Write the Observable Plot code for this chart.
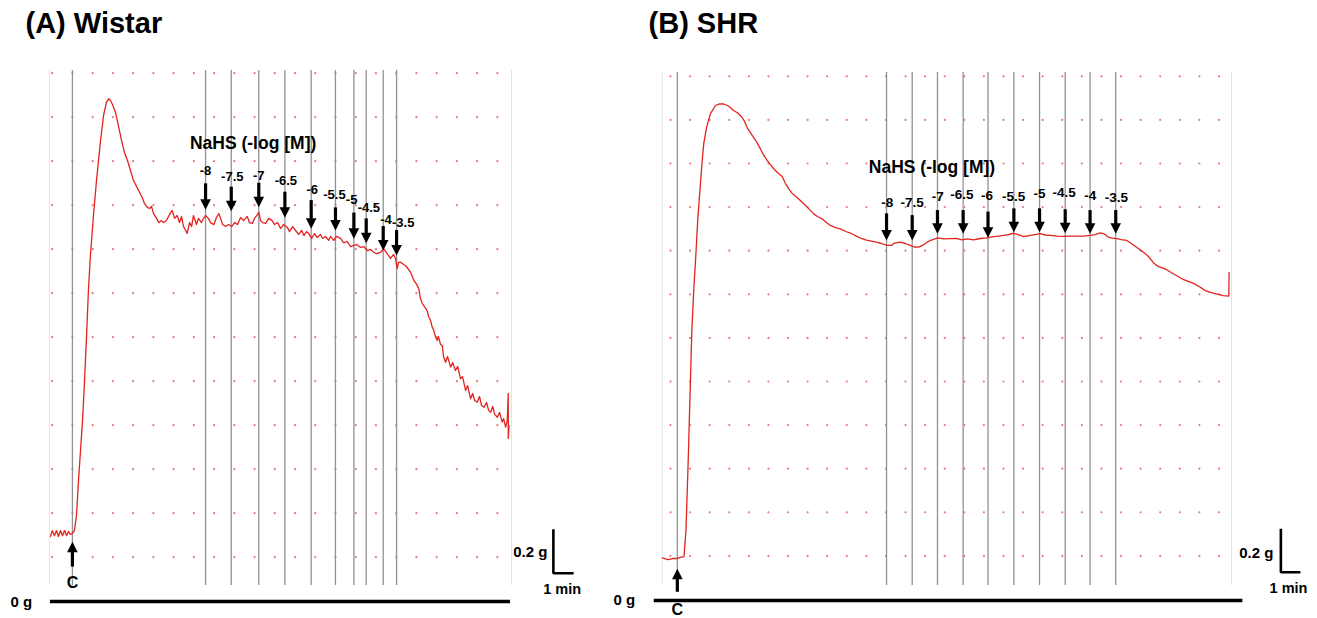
<!DOCTYPE html>
<html><head><meta charset="utf-8">
<script src="https://cdn.jsdelivr.net/npm/d3@7"></script>
<script src="https://cdn.jsdelivr.net/npm/@observablehq/plot@0.6"></script>
<style>
html,body{margin:0;padding:0;background:#fff;}
#wrap{position:relative;width:1317px;height:618px;overflow:hidden;background:#fff;}
#wrap svg{position:absolute;top:0;}
</style></head><body><div id="wrap"></div>
<script>
// ---------- data (time in min, force in g) ----------
const doseLabels = ["-8","-7.5","-7","-6.5","-6","-5.5","-5","-4.5","-4","-3.5"];
const gridGrams = [0.2,0.4,0.6,0.8,1.0,1.2,1.4,1.6,1.8,2.0,2.2,2.4];
const wistarGridMinutes = d3.range(0, 23);
const shrGridMinutes = d3.range(0, 29);

// (A) Wistar trace
const wistarMinutes = [
-0.08,0.0,0.11,0.21,0.31,0.41,0.51,0.61,0.71,0.81,
0.90,1.00,1.10,1.20,1.30,1.40,1.50,1.60,1.70,1.79,
1.89,2.04,2.19,2.39,2.54,2.68,2.80,2.88,2.98,3.13,
3.28,3.43,3.57,3.72,3.87,4.02,4.20,4.32,4.45,4.56,
4.70,4.81,4.91,5.01,5.16,5.27,5.40,5.50,5.60,5.70,
5.80,5.93,6.05,6.18,6.29,6.39,6.49,6.67,6.79,6.89,
6.98,7.13,7.23,7.38,7.48,7.58,7.72,7.82,7.99,8.12,
8.24,8.32,8.42,8.57,8.72,8.87,9.01,9.16,9.31,9.46,
9.64,9.75,9.89,10.00,10.15,10.21,10.30,10.40,10.55,10.70,
10.87,10.99,11.14,11.29,11.43,11.62,11.73,11.88,12.03,12.18,
12.33,12.44,12.57,12.68,12.82,12.97,13.10,13.26,13.36,13.51,
13.66,13.76,13.92,14.05,14.25,14.40,14.58,14.75,14.91,15.04,
15.24,15.39,15.57,15.73,15.90,16.03,16.23,16.39,16.52,16.72,
16.87,16.97,17.05,17.12,17.22,17.37,17.46,17.61,17.71,17.88,
18.01,18.12,18.20,18.29,18.40,18.53,18.60,18.70,18.77,18.86,
18.94,19.03,19.09,19.19,19.28,19.34,19.44,19.54,19.69,19.79,
19.93,20.04,20.18,20.28,20.43,20.53,20.68,20.78,20.88,21.01,
21.12,21.22,21.34,21.47,21.57,21.67,21.77,21.87,22.00,22.11,
22.24,22.31,22.41,22.49,22.54,22.54,22.58];
const wistarGrams = [
0.294,0.321,0.298,0.321,0.294,0.321,0.298,0.321,0.298,0.317,
0.303,0.308,0.321,0.389,0.548,0.685,0.821,1.003,1.208,1.412,
1.571,1.753,1.912,2.094,2.208,2.267,2.284,2.276,2.258,2.221,
2.158,2.094,2.040,2.003,1.958,1.912,1.880,1.858,1.835,1.808,
1.790,1.785,1.794,1.762,1.740,1.721,1.730,1.721,1.726,1.740,
1.758,1.776,1.740,1.753,1.721,1.749,1.703,1.672,1.721,1.703,
1.753,1.712,1.740,1.721,1.740,1.753,1.740,1.721,1.712,1.744,
1.762,1.740,1.712,1.703,1.712,1.703,1.721,1.712,1.744,1.730,
1.749,1.721,1.717,1.740,1.758,1.767,1.730,1.721,1.717,1.740,
1.730,1.712,1.721,1.694,1.712,1.699,1.680,1.703,1.685,1.667,
1.685,1.662,1.680,1.671,1.649,1.671,1.653,1.667,1.649,1.658,
1.640,1.658,1.640,1.658,1.649,1.630,1.635,1.612,1.617,1.621,
1.608,1.612,1.594,1.599,1.585,1.580,1.586,1.602,1.585,1.558,
1.576,1.558,1.512,1.540,1.541,1.530,1.526,1.508,1.495,1.458,
1.440,1.421,1.376,1.353,1.339,1.321,1.294,1.276,1.249,1.230,
1.203,1.185,1.203,1.167,1.162,1.112,1.086,1.112,1.064,1.085,
1.049,1.067,1.011,1.021,0.958,0.980,0.920,0.944,0.912,0.905,
0.930,0.890,0.882,0.903,0.867,0.859,0.885,0.849,0.836,0.858,
0.814,0.830,0.791,0.821,0.944,0.740,0.799];
const wistarDoseMinutes = [7.58,8.85,10.21,11.50,12.80,14.00,14.91,15.52,16.36,17.02];
const wistarLabelMinutes = [7.58,8.90,10.21,11.55,12.85,13.95,14.80,15.65,16.50,17.35];
const wistarLabelGrams = [1.958,1.930,1.935,1.912,1.870,1.849,1.826,1.790,1.735,1.718];
const wistarArrowTop = [1.897,1.882,1.900,1.859,1.821,1.788,1.764,1.738,1.703,1.685];
const wistarArrowTip = [1.779,1.773,1.791,1.743,1.693,1.685,1.647,1.627,1.594,1.571];

// (B) SHR trace
const shrMinutes = [
-0.42,-0.26,-0.10,0.10,0.31,0.51,0.69,0.79,0.89,0.99,
1.09,1.20,1.28,1.39,1.49,1.62,1.70,1.84,2.04,2.30,
2.50,2.72,2.91,3.06,3.21,3.40,3.66,3.78,3.91,4.08,
4.25,4.44,4.59,4.74,4.93,5.10,5.27,5.46,5.70,5.87,
6.04,6.22,6.46,6.63,6.80,7.04,7.31,7.50,7.74,7.96,
8.16,8.42,8.67,8.95,9.23,9.49,9.74,10.00,10.26,10.56,
10.77,11.06,11.28,11.43,11.73,11.99,12.24,12.45,12.67,12.86,
13.10,13.32,13.64,13.93,14.29,14.59,14.88,15.15,15.47,15.82,
16.16,16.49,16.73,17.01,17.24,17.52,17.76,18.03,18.37,18.62,
18.88,19.13,19.39,19.74,20.07,20.41,20.77,21.07,21.43,21.68,
21.94,22.14,22.36,22.55,22.79,23.01,23.30,23.52,23.81,24.03,
24.29,24.49,24.69,24.90,25.10,25.31,25.56,25.89,26.17,26.43,
26.70,26.99,27.30,27.60,27.91,28.22,28.50,28.52];
const shrGrams = [
0.191,0.186,0.183,0.188,0.188,0.193,0.197,0.317,0.592,0.913,
1.234,1.440,1.555,1.739,1.862,2.014,2.092,2.165,2.229,2.266,
2.273,2.273,2.266,2.257,2.243,2.234,2.211,2.193,2.165,2.142,
2.119,2.092,2.067,2.041,2.014,1.995,1.976,1.959,1.940,1.908,
1.884,1.862,1.844,1.830,1.815,1.794,1.769,1.757,1.746,1.729,
1.716,1.706,1.700,1.688,1.679,1.667,1.656,1.649,1.644,1.638,
1.633,1.624,1.624,1.635,1.639,1.633,1.624,1.617,1.616,1.624,
1.639,1.649,1.659,1.654,1.655,1.656,1.650,1.654,1.650,1.656,
1.659,1.665,1.667,1.670,1.674,1.680,1.674,1.665,1.670,1.674,
1.678,1.672,1.670,1.667,1.666,1.667,1.667,1.667,1.670,1.674,
1.682,1.677,1.662,1.658,1.655,1.651,1.647,1.633,1.615,1.601,
1.583,1.564,1.541,1.528,1.521,1.514,1.500,1.483,1.468,1.459,
1.450,1.436,1.417,1.408,1.401,1.394,1.392,1.500];
const shrDoseMinutes = [11.03,12.34,13.63,14.94,16.21,17.53,18.84,20.15,21.42,22.73];
const shrLabelMinutes = [11.06,12.33,13.64,14.88,16.16,17.52,18.84,20.10,21.43,22.76];
const shrLabelGrams = [1.822,1.822,1.849,1.856,1.853,1.849,1.861,1.864,1.853,1.845];
const shrArrowTop = [1.769,1.761,1.784,1.784,1.777,1.792,1.792,1.788,1.784,1.784];
const shrArrowTip = [1.647,1.647,1.678,1.678,1.659,1.685,1.685,1.680,1.678,1.678];

// ---------- drawing ----------
const FONT = '"Liberation Sans", Arial, Helvetica, sans-serif';
const triDown = {draw(c){ c.moveTo(0,0); c.lineTo(-5.3,-10.5); c.lineTo(5.3,-10.5); c.closePath(); }};
const triUp = {draw(c){ c.moveTo(0,0); c.lineTo(-5.3,10.5); c.lineTo(5.3,10.5); c.closePath(); }};

function panel(cfg) {
  const H = 618;
  const pxPerG = (H - cfg.mt - cfg.mb) / (cfg.yDomain[1] - cfg.yDomain[0]);
  const headG = 8 / pxPerG;
  const trace = cfg.minutes.map((t, i) => ({t, g: cfg.grams[i]}));
  const doses = doseLabels.map((lab, i) => ({lab, t: cfg.doseMinutes[i], lt: cfg.labelMinutes[i], ly: cfg.labelGrams[i], top: cfg.arrowTop[i], tip: cfg.arrowTip[i]}));
  const grid = d3.cross(cfg.gridMinutes, gridGrams).map(([t, g]) => ({t, g}));
  const c = {t: cfg.cMinute, bottom: cfg.cArrow[0], tip: cfg.cArrow[1], lg: cfg.cLabelG};
  const sb = cfg.scaleBar;
  const bar = [{t: sb.t, g: sb.g + 0.2}, {t: sb.t, g: sb.g}, {t: sb.t + 1, g: sb.g}];
  const svg = Plot.plot({
    width: cfg.width, height: H,
    marginLeft: cfg.ml, marginRight: cfg.mr, marginTop: cfg.mt, marginBottom: cfg.mb,
    x: {domain: cfg.xDomain, axis: null},
    y: {domain: cfg.yDomain, axis: null},
    style: {fontFamily: FONT, fontSize: "10px", background: "transparent", overflow: "visible"},
    marks: [
      Plot.ruleX(cfg.xDomain, {y1: cfg.lineBottom, y2: cfg.yDomain[1], stroke: "#e4e4e4", strokeWidth: 1}),
      Plot.dot(grid, {x: "t", y: "g", r: 1.1, fill: "#e87a7a"}),
      Plot.ruleX([cfg.cMinute, ...cfg.doseMinutes], {y1: cfg.lineBottom, y2: cfg.yDomain[1], stroke: "#929292", strokeWidth: 1.3}),
      Plot.line(trace, {x: "t", y: "g", stroke: "#e3231e", strokeWidth: 1.3}),
      Plot.ruleY([cfg.baselineG], {x1: cfg.baselineX[0], x2: cfg.baselineX[1], stroke: "black", strokeWidth: 3.5}),
      Plot.ruleX(doses, {x: "t", y1: "top", y2: d => d.tip + headG, stroke: "black", strokeWidth: 3.2}),
      Plot.dot(doses, {x: "t", y: "tip", symbol: triDown, r: 5, fill: "black"}),
      Plot.text(doses, {x: "lt", y: "ly", text: "lab", fontSize: cfg.labelSize, fontWeight: "bold", fill: "black"}),
      Plot.text([cfg.nahs], {x: "t", y: "g", text: "text", fontSize: 17.5, fontWeight: "bold", fill: "black"}),
      Plot.ruleX([c], {x: "t", y1: "bottom", y2: d => d.tip - headG, stroke: "black", strokeWidth: 3.2}),
      Plot.dot([c], {x: "t", y: "tip", symbol: triUp, r: 5, fill: "black"}),
      Plot.text([c], {x: "t", y: "lg", text: () => "C", fontSize: 16, fontWeight: "bold", fill: "black"}),
      Plot.text([cfg.title], {x: "t", y: "g", text: "text", textAnchor: "start", fontSize: 29, fontWeight: "bold", fill: "black"}),
      Plot.text([cfg.zero], {x: "t", y: "g", text: "text", textAnchor: "start", fontSize: 15, fontWeight: "bold", fill: "black"}),
      Plot.line(bar, {x: "t", y: "g", stroke: "black", strokeWidth: 2.6, strokeLinejoin: "miter", strokeLinecap: "butt"}),
      Plot.text([sb], {x: "lt", y: "lg", text: () => "0.2 g", textAnchor: "end", fontSize: 15, fontWeight: "bold", fill: "black"}),
      Plot.text([sb], {x: "mt", y: "mg", text: () => "1 min", fontSize: 14.5, fontWeight: "bold", fill: "black"})
    ]
  });
  svg.style.left = cfg.left + "px";
  return svg;
}

const wrap = document.getElementById("wrap");
wrap.append(panel({
  left: 0, width: 600, ml: 49, mr: 89, mt: 70, mb: 17.3,
  xDomain: [-0.133, 22.70], yDomain: [0, 2.4123],
  minutes: wistarMinutes, grams: wistarGrams, gridMinutes: wistarGridMinutes,
  doseMinutes: wistarDoseMinutes, labelMinutes: wistarLabelMinutes, labelGrams: wistarLabelGrams,
  arrowTop: wistarArrowTop, arrowTip: wistarArrowTip, labelSize: 13,
  lineBottom: 0.071, cMinute: 1.0, cArrow: [0.155, 0.27], cLabelG: 0.082,
  nahs: {t: 9.93, g: 2.079, text: "NaHS (-log [M])"},
  title: {t: -1.32, g: 2.626, text: "(A) Wistar"},
  zero: {t: -2.06, g: -0.006, text: "0 g"},
  baselineX: [-0.084, 22.65], baselineG: -0.001,
  scaleBar: {t: 24.77, g: 0.127, lt: 24.47, lg: 0.223, mt: 25.2, mg: 0.056}
}));
wrap.append(panel({
  left: 600, width: 717, ml: 61.7, mr: 86, mt: 72, mb: 19,
  xDomain: [-0.423, 28.64], yDomain: [0, 2.4174],
  minutes: shrMinutes, grams: shrGrams, gridMinutes: shrGridMinutes,
  doseMinutes: shrDoseMinutes, labelMinutes: shrLabelMinutes, labelGrams: shrLabelGrams,
  arrowTop: shrArrowTop, arrowTip: shrArrowTip, labelSize: 13.5,
  lineBottom: 0.064, cMinute: 0.35, cArrow: [0.033, 0.141], cLabelG: -0.047,
  nahs: {t: 13.35, g: 1.983, text: "NaHS (-log [M])"},
  title: {t: -1.12, g: 2.642, text: "(B) SHR"},
  zero: {t: -2.91, g: -0.005, text: "0 g"},
  baselineX: [-0.83, 29.22], baselineG: -0.005,
  scaleBar: {t: 31.16, g: 0.125, lt: 30.78, lg: 0.212, mt: 31.55, mg: 0.049}
}));
</script></body></html>
